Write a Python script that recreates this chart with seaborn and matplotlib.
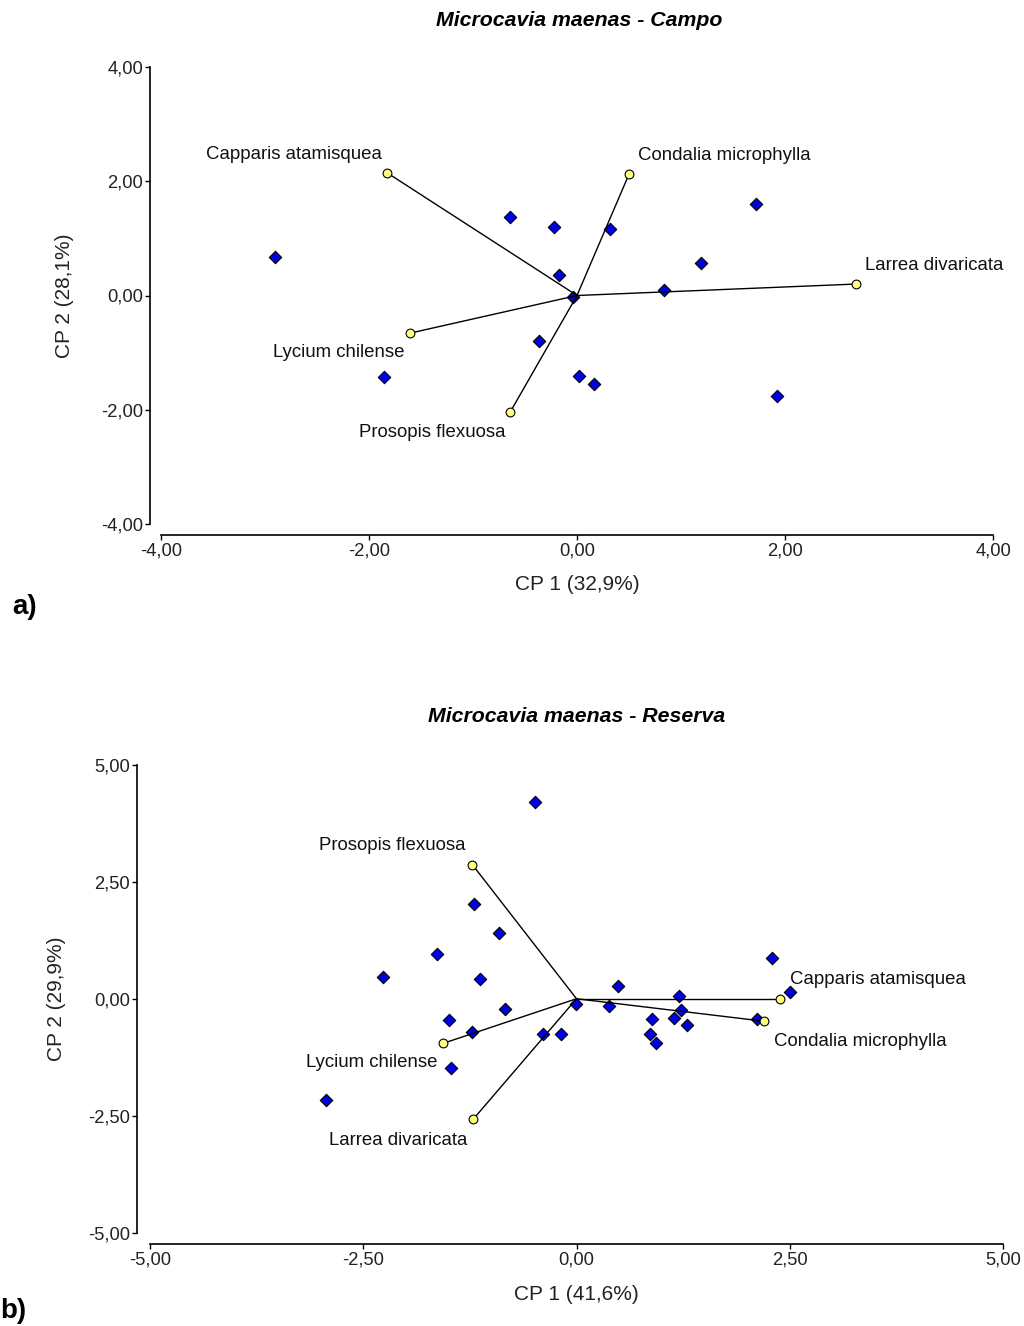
import numpy as np
import pandas as pd
import matplotlib
matplotlib.use("Agg")
import matplotlib.pyplot as plt
import seaborn as sns
from matplotlib.ticker import FuncFormatter, FixedLocator

# ---------------- data: panel a (Campo) ----------------
campo_obs_x = [-2.90, -0.64, -0.22, 0.32, -0.17, -0.04, -0.37, -1.86, 0.02, 0.16, 0.84, 1.19, 1.72, 1.92]
campo_obs_y = [0.68, 1.38, 1.19, 1.17, 0.35, -0.02, -0.79, -1.43, -1.40, -1.55, 0.10, 0.56, 1.60, -1.76]
campo_species = ["Capparis atamisquea", "Condalia microphylla", "Larrea divaricata",
                 "Lycium chilense", "Prosopis flexuosa"]
campo_var_x = [-1.83, 0.50, 2.68, -1.61, -0.64]
campo_var_y = [2.15, 2.12, 0.20, -0.66, -2.03]
campo_ticks = [-4.0, -2.0, 0.0, 2.0, 4.0]

# ---------------- data: panel b (Reserva) ----------------
reserva_obs_x = [-0.49, -1.20, -0.91, -1.64, -2.27, -1.13, 0.49, -0.01, 0.38, -0.84, -1.49, -1.23, -0.39,
                 -0.18, -1.47, -2.94, 2.29, 1.20, 2.50, 1.23, 1.14, 0.89, 1.30, 0.86, 0.93, 2.12]
reserva_obs_y = [4.19, 2.03, 1.41, 0.96, 0.46, 0.42, 0.27, -0.11, -0.16, -0.22, -0.45, -0.71, -0.75,
                 -0.75, -1.48, -2.17, 0.88, 0.06, 0.14, -0.24, -0.41, -0.44, -0.57, -0.75, -0.94, -0.43]
reserva_species = ["Prosopis flexuosa", "Capparis atamisquea", "Condalia microphylla",
                   "Lycium chilense", "Larrea divaricata"]
reserva_var_x = [-1.22, 2.38, 2.20, -1.56, -1.21]
reserva_var_y = [2.86, 0.00, -0.48, -0.95, -2.57]
reserva_ticks = [-5.0, -2.5, 0.0, 2.5, 5.0]

sns.set_theme(style="white")
plt.rcParams['font.family'] = ['Liberation Sans', 'DejaVu Sans']

W, H = 1024, 1326
fig = plt.figure(figsize=(W / 100, H / 100), dpi=100)

def px_axes(left, right, top, bottom):
    return fig.add_axes([left / W, 1 - bottom / H, (right - left) / W, (bottom - top) / H])

comma = FuncFormatter(lambda v, p: f"{v:.2f}".replace(".", ","))

def panel(ax, ox, oy, sp, vx, vy, ticks, xlab, ylab, label_off, left_off, ylab_x, xlab_y):
    obs = pd.DataFrame({"x": ox, "y": oy})
    var = pd.DataFrame({"x": vx, "y": vy, "sp": sp})
    sns.scatterplot(data=obs, x="x", y="y", ax=ax, marker="D", s=40, color="#0000e6",
                    edgecolor="black", linewidth=0.8, zorder=2, legend=False)
    for x, y in zip(vx, vy):
        seg = pd.DataFrame({"x": [0.0, x], "y": [0.0, y]})
        sns.lineplot(data=seg, x="x", y="y", ax=ax, color="black", linewidth=1.0,
                     sort=False, estimator=None, zorder=3)
    sns.scatterplot(data=var, x="x", y="y", ax=ax, marker="o", s=40, color="#ffff80",
                    edgecolor="black", linewidth=0.8, zorder=4, legend=False)
    for (x, y, name), (dx, dy, ha) in zip(zip(vx, vy, sp), label_off):
        ax.text(x + dx, y + dy, name, ha=ha, va="center", fontsize=13.4, color="#111111", zorder=5)
    lo, hi = ticks[0], ticks[-1]
    ax.set_xlim(lo, hi)
    ax.set_ylim(lo, hi)
    ax.xaxis.set_major_locator(FixedLocator(ticks))
    ax.yaxis.set_major_locator(FixedLocator(ticks))
    ax.xaxis.set_major_formatter(comma)
    ax.yaxis.set_major_formatter(comma)
    for s in ["top", "right"]:
        ax.spines[s].set_visible(False)
    ax.spines["left"].set_position(("outward", left_off))
    ax.spines["bottom"].set_position(("outward", 8))
    for s in ["left", "bottom"]:
        ax.spines[s].set_color("black")
        ax.spines[s].set_linewidth(1.2)
    ax.tick_params(axis="both", which="major", direction="out", length=3.5, width=1.0,
                   color="black", labelsize=13.2, labelcolor="#222222", pad=1.5,
                   bottom=True, left=True)
    ax.set_xlabel(xlab, fontsize=15, color="#222222")
    ax.set_ylabel(ylab, fontsize=15, color="#222222")
    ax.xaxis.set_label_coords(0.5, xlab_y)
    ax.yaxis.set_label_coords(ylab_x, 0.5)
    ax.grid(False)
    ax.patch.set_alpha(0)

ax1 = px_axes(161, 993, 66.7, 524.3)
panel(ax1, campo_obs_x, campo_obs_y, campo_species, campo_var_x, campo_var_y, campo_ticks,
      "CP 1 (32,9%)", "CP 2 (28,1%)",
      [(-0.05, 0.31, "right"), (0.09, 0.32, "left"), (0.09, 0.32, "left"),
       (-0.05, -0.34, "right"), (-0.05, -0.36, "right")],
      8, -0.105, -0.11)

ax2 = px_axes(150, 1003, 764.5, 1233)
panel(ax2, reserva_obs_x, reserva_obs_y, reserva_species, reserva_var_x, reserva_var_y, reserva_ticks,
      "CP 1 (41,6%)", "CP 2 (29,9%)",
      [(-0.08, 0.42, "right"), (0.12, 0.42, "left"), (0.11, -0.44, "left"),
       (-0.07, -0.42, "right"), (-0.07, -0.45, "right")],
      9.5, -0.098, -0.11)

fig.text(579 / W, 1 - 20 / H, "Microcavia maenas - Campo", ha="center", va="center",
         fontsize=15.3, fontweight="bold", fontstyle="italic", color="black")
fig.text(577 / W, 1 - 717 / H, "Microcavia maenas - Reserva", ha="center", va="center",
         fontsize=15.3, fontweight="bold", fontstyle="italic", color="black")
fig.text(12 / W, 1 - 607 / H, "a)", ha="left", va="center", fontsize=20, fontweight="bold", color="black")
fig.text(0 / W, 1 - 1311 / H, "b)", ha="left", va="center", fontsize=20, fontweight="bold", color="black")

fig.savefig("out.png", dpi=100, facecolor="white")
